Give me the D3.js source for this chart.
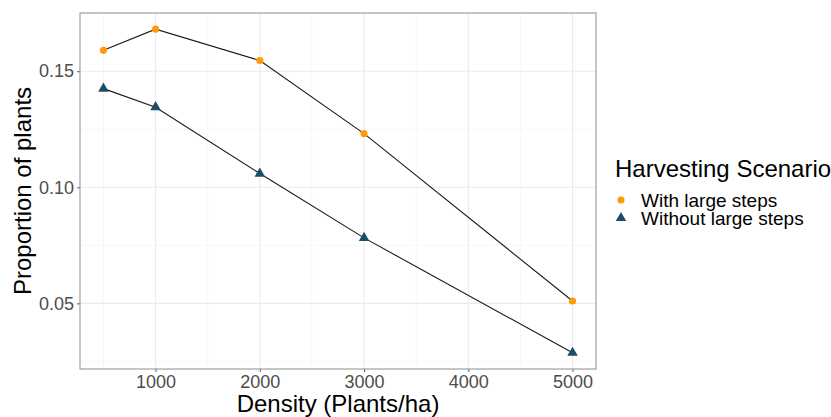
<!DOCTYPE html>
<html>
<head>
<meta charset="utf-8">
<script src="https://cdn.jsdelivr.net/npm/d3@7"></script>
<style>
  html, body { margin: 0; padding: 0; background: #ffffff; }
  svg { display: block; font-family: "Liberation Sans", Arial, sans-serif; }
</style>
</head>
<body>
<svg id="chart" width="831" height="417"></svg>
<script>
// Planting densities (plants/ha)
const densities = [500, 1000, 2000, 3000, 5000];
// Proportion of plants per harvesting scenario
const withLargeSteps = [0.159, 0.1681, 0.1546, 0.1231, 0.051];
const withoutLargeSteps = [0.1425, 0.1345, 0.1059, 0.0782, 0.0287];
const seriesNames = ["With large steps", "Without large steps"];
const seriesColors = ["#FF9A0A", "#1B4C68"];
const xTicks = [1000, 2000, 3000, 4000, 5000];
const yTicks = [0.05, 0.10, 0.15];
const xMinor = [500, 1500, 2500, 3500, 4500];
const yMinor = [0.025, 0.075, 0.125];

const svg = d3.select("#chart");
const panel = { left: 80, right: 596, top: 13, bottom: 369 };

// Continuous scales with 5% padding around the data range
const xExt = d3.extent(densities);
const xPad = (xExt[1] - xExt[0]) * 0.05;
const allY = withLargeSteps.concat(withoutLargeSteps);
const yExt = d3.extent(allY);
const yPad = (yExt[1] - yExt[0]) * 0.05;

const x = d3.scaleLinear().domain([xExt[0] - xPad, xExt[1] + xPad]).range([panel.left, panel.right]);
const y = d3.scaleLinear().domain([yExt[0] - yPad, yExt[1] + yPad]).range([panel.bottom, panel.top]);

const g = svg.append("g");

// Minor grid
g.selectAll(".xminor").data(xMinor).join("line")
  .attr("x1", d => x(d)).attr("x2", d => x(d))
  .attr("y1", panel.top).attr("y2", panel.bottom)
  .attr("stroke", "#F3F3F3").attr("stroke-width", 0.7);
g.selectAll(".yminor").data(yMinor).join("line")
  .attr("y1", d => y(d)).attr("y2", d => y(d))
  .attr("x1", panel.left).attr("x2", panel.right)
  .attr("stroke", "#F3F3F3").attr("stroke-width", 0.7);

// Major grid
g.selectAll(".xmajor").data(xTicks).join("line")
  .attr("x1", d => x(d)).attr("x2", d => x(d))
  .attr("y1", panel.top).attr("y2", panel.bottom)
  .attr("stroke", "#EBEBEB").attr("stroke-width", 1.1);
g.selectAll(".ymajor").data(yTicks).join("line")
  .attr("y1", d => y(d)).attr("y2", d => y(d))
  .attr("x1", panel.left).attr("x2", panel.right)
  .attr("stroke", "#EBEBEB").attr("stroke-width", 1.1);

// Axes
const xAxis = d3.axisBottom(x).tickValues(xTicks).tickFormat(d3.format("d")).tickSize(3).tickPadding(3);
const yAxis = d3.axisLeft(y).tickValues(yTicks).tickFormat(d3.format(".2f")).tickSize(3).tickPadding(3);

const gx = svg.append("g").attr("transform", `translate(0,${panel.bottom})`).call(xAxis);
const gy = svg.append("g").attr("transform", `translate(${panel.left},0)`).call(yAxis);
[gx, gy].forEach(a => {
  a.select(".domain").remove();
  a.selectAll(".tick line").attr("stroke", "#333333").attr("stroke-width", 0.8);
  a.selectAll(".tick text").attr("fill", "#4D4D4D").style("font-size", "18px")
    .style("font-family", "'Liberation Sans', Arial, sans-serif");
});
gx.selectAll(".tick text").attr("dy", "0.71em");

// Panel border
svg.append("rect")
  .attr("x", panel.left).attr("y", panel.top)
  .attr("width", panel.right - panel.left).attr("height", panel.bottom - panel.top)
  .attr("fill", "none").attr("stroke", "#8C8C8C").attr("stroke-width", 1);

// Lines and points
const series = [withLargeSteps, withoutLargeSteps];
const line = d3.line().x((d, i) => x(densities[i])).y(d => y(d));

series.forEach(vals => {
  svg.append("path").datum(vals)
    .attr("d", line)
    .attr("fill", "none").attr("stroke", "#1a1a1a").attr("stroke-width", 1.1);
});

const symCircle = d3.symbol().type(d3.symbolCircle).size(40);
const symTri = d3.symbol().type(d3.symbolTriangle).size(48);

svg.append("g").selectAll("path").data(withLargeSteps).join("path")
  .attr("d", symCircle)
  .attr("transform", (d, i) => `translate(${x(densities[i])},${y(d)})`)
  .attr("fill", seriesColors[0]);

svg.append("g").selectAll("path").data(withoutLargeSteps).join("path")
  .attr("d", symTri)
  .attr("transform", (d, i) => `translate(${x(densities[i])},${y(d)})`)
  .attr("fill", seriesColors[1]);

// Axis titles
svg.append("text")
  .attr("x", (panel.left + panel.right) / 2).attr("y", 412)
  .attr("text-anchor", "middle").style("font-size", "24px").attr("fill", "#000")
  .text("Density (Plants/ha)");

svg.append("text")
  .attr("transform", `translate(31,${(panel.top + panel.bottom) / 2}) rotate(-90)`)
  .attr("text-anchor", "middle").style("font-size", "24px").attr("fill", "#000")
  .text("Proportion of plants");

// Legend
const legend = svg.append("g");
legend.append("text")
  .attr("x", 615).attr("y", 176.5)
  .style("font-size", "24px").attr("fill", "#000")
  .text("Harvesting Scenario");

const legendSyms = [symCircle, symTri];
const legendY = [200, 218];
seriesNames.forEach((name, i) => {
  legend.append("path")
    .attr("d", legendSyms[i])
    .attr("transform", `translate(621,${legendY[i]})`)
    .attr("fill", seriesColors[i]);
  legend.append("text")
    .attr("x", 641).attr("y", legendY[i] + 6.5)
    .style("font-size", "19px").attr("fill", "#000")
    .text(name);
});
</script>
</body>
</html>
